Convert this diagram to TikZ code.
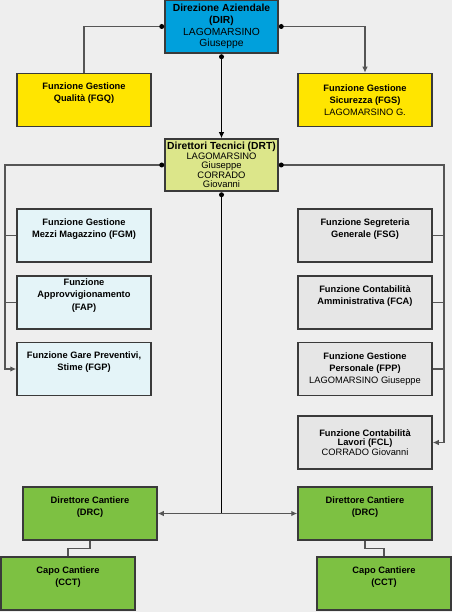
\documentclass[tikz,border=0pt]{standalone}
\usepackage{fontspec}
\setmainfont{Liberation Sans}
\usetikzlibrary{arrows.meta,calc}
\definecolor{bgcol}{HTML}{EEEEEE}
\definecolor{dirblue}{HTML}{00A0DC}
\definecolor{yel}{HTML}{FFE500}
\definecolor{drtgreen}{HTML}{DCE68A}
\definecolor{lblue}{HTML}{E4F4F8}
\definecolor{lgray}{HTML}{E6E6E6}
\definecolor{grn}{HTML}{7DC142}
\definecolor{bord}{HTML}{3A3A3A}
\definecolor{conncol}{HTML}{555555}
\tikzset{
  box/.style={draw=bord, line width=1.5pt, minimum width=134pt, minimum height=53pt,
    inner sep=0pt, align=center, font=\fontsize{9.3}{12}\selectfont},
  topbox/.style={box, minimum width=113pt},
  conn/.style={draw=conncol, line width=1.4pt},
  mainconn/.style={draw=black, line width=1.2pt},
  tip/.style={-{Latex[length=6pt,width=5.5pt]}},
  dot/.style={fill=black},
}
\begin{document}
\begin{tikzpicture}[x=1pt,y=-1pt]
\fill[bgcol] (0,0) rectangle (452,612);
\useasboundingbox (0,0) rectangle (452,612);

% top level
\node[topbox, fill=dirblue, minimum height=53pt, font=\fontsize{10.3}{11.7}\selectfont] (DIR) at (221.5,26.5)
  {\bfseries Direzione Aziendale\\\bfseries (DIR)\\LAGOMARSINO\\Giuseppe};
\node[box, fill=yel] (FGQ) at (84,100) {\bfseries Funzione Gestione\\\bfseries Qualità (FGQ)\\\strut};
\node[box, fill=yel] (FGS) at (365,100) {\bfseries Funzione Gestione\\\bfseries Sicurezza (FGS)\\LAGOMARSINO G.};

% DRT
\node[topbox, fill=drtgreen, minimum height=52pt, font=\fontsize{9.4}{9.5}\selectfont] (DRT) at (221.5,165)
  {{\fontsize{10.3}{9.5}\selectfont\bfseries Direttori Tecnici (DRT)}\\LAGOMARSINO\\Giuseppe\\CORRADO\\Giovanni};

% left column
\node[box, fill=lblue] (FGM) at (84,235.5) {\bfseries Funzione Gestione\\\bfseries Mezzi Magazzino (FGM)\\\strut};
\node[box, fill=lblue, font=\fontsize{9.3}{12.5}\selectfont] (FAP) at (84,302.5) {\bfseries Funzione\\\bfseries Approvvigionamento\\\bfseries (FAP)\\\strut};
\node[box, fill=lblue] (FGP) at (84,369) {\bfseries Funzione Gare Preventivi,\\\bfseries Stime (FGP)\\\strut};

% right column
\node[box, fill=lgray] (FSG) at (365,235.5) {\bfseries Funzione Segreteria\\\bfseries Generale (FSG)\\\strut};
\node[box, fill=lgray] (FCA) at (365,302.5) {\bfseries Funzione Contabilità\\\bfseries Amministrativa (FCA)\\\strut};
\node[box, fill=lgray] (FPP) at (365,369) {\bfseries Funzione Gestione\\\bfseries Personale (FPP)\\LAGOMARSINO Giuseppe};
\node[box, fill=lgray, font=\fontsize{9.3}{9.2}\selectfont] (FCL) at (365,442.5) {\bfseries Funzione Contabilità\\\bfseries Lavori (FCL)\\CORRADO Giovanni};

% site level
\node[box, fill=grn] (DRCl) at (90,513.5) {\bfseries Direttore Cantiere\\\bfseries (DRC)\\\strut};
\node[box, fill=grn] (DRCr) at (365,513.5) {\bfseries Direttore Cantiere\\\bfseries (DRC)\\\strut};
\node[box, fill=grn] (CCTl) at (68,583.5) {\bfseries Capo Cantiere\\\bfseries (CCT)\\\strut};
\node[box, fill=grn] (CCTr) at (384,583.5) {\bfseries Capo Cantiere\\\bfseries (CCT)\\\strut};

% helper coordinates
\coordinate (d1) at ($(DIR.west)+(-2.5,0)$);
\coordinate (d2) at ($(DIR.east)+(2.5,0)$);
\coordinate (d3) at ($(DIR.south)+(0,3)$);
\coordinate (d4) at ($(DRT.west)+(-2.5,0)$);
\coordinate (d5) at ($(DRT.east)+(2.5,0)$);
\coordinate (d6) at ($(DRT.south)+(0,3)$);
\coordinate (L) at (5,0);
\coordinate (R) at (444,0);

% connectors from DIR
\draw[conn] (d1) -| (FGQ.north);
\draw[conn, tip] (d2) -| (FGS.north);
\draw[mainconn, tip] (d3) -- (DRT.north);

% left branch
\draw[conn, tip] (d4) -- (d4 -| L) |- (FGP.west);
\draw[conn] (FGM.west) -- (FGM.west -| L);
\draw[conn] (FAP.west) -- (FAP.west -| L);

% right branch
\draw[conn, tip] (d5) -- (d5 -| R) |- (FCL.east);
\draw[conn] (FSG.east) -- (FSG.east -| R);
\draw[conn] (FCA.east) -- (FCA.east -| R);
\draw[conn] (FPP.east) -- (FPP.east -| R);

% down to site directors
\coordinate (J) at (d6 |- DRCl.east);
\draw[mainconn] (d6) -- (J);
\draw[conn, {Latex[length=6pt,width=5.5pt]}-{Latex[length=6pt,width=5.5pt]}] (DRCl.east) -- (DRCr.west);

% site director to site chief
\draw[conn] (DRCl.south) |- ($(DRCl.south)!0.5!(CCTl.north)$) -| (CCTl.north);
\draw[conn] (DRCr.south) |- ($(DRCr.south)!0.5!(CCTr.north)$) -| (CCTr.north);

% dots
\foreach \d in {d1,d2,d3,d4,d5,d6} \fill[dot] (\d) circle (2.5);
\end{tikzpicture}
\end{document}
